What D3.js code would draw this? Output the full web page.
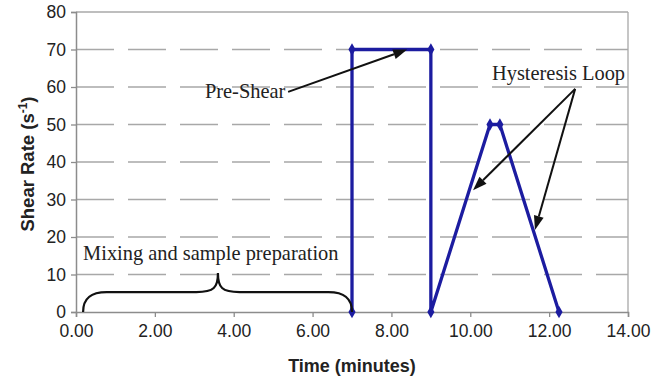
<!DOCTYPE html>
<html>
<head>
<meta charset="utf-8">
<script src="https://cdn.jsdelivr.net/npm/d3@7"></script>
<style>
  html, body { margin: 0; padding: 0; background: #fff; }
  svg { display: block; }
</style>
</head>
<body>
<svg id="chart"></svg>
<script>
// shear-rate program
const timeMin = [7, 7, 9, 9, 10.5, 10.75, 12.25];
const shearRate = [0, 70, 70, 0, 50, 50, 0];

const xTicks = [0, 2, 4, 6, 8, 10, 12, 14];
const yTicks = [0, 10, 20, 30, 40, 50, 60, 70, 80];

// annotation anchors in data units [minutes, s^-1]
const preShearText = [3.27, 57.2];
const preShearArrow = [[5.38, 58.7], [8.4, 70]];
const loopText = [10.55, 62];
const loopArrows = [
  [[12.66, 59.5], [10.07, 32.5]],
  [[12.66, 59.5], [11.64, 21.9]]
];
const mixText = [0.18, 13.8];
const brace = { from: 0.18, to: 7.0, mid: 3.6, flat: 5.3, tip: 10.4 };

const W = 652, H = 377;
const margin = { top: 12, right: 24, bottom: 65, left: 76 };
const iW = W - margin.left - margin.right;
const iH = H - margin.top - margin.bottom;

const GRID = '#a8a8a8';
const AXIS = '#8c8c8c';
const TICK_TXT = '#222';
const LINE = '#1c1ca0';

const svg = d3.select('#chart').attr('width', W).attr('height', H);
const g = svg.append('g').attr('transform', `translate(${margin.left},${margin.top})`);

const x = d3.scaleLinear().domain([0, 14]).range([0, iW]);
const y = d3.scaleLinear().domain([0, 80]).range([iH, 0]);

// gridlines
g.append('g')
  .selectAll('line')
  .data(yTicks.filter((d) => d > 0))
  .join('line')
  .attr('x1', 0)
  .attr('x2', iW)
  .attr('y1', (d) => y(d))
  .attr('y2', (d) => y(d))
  .attr('stroke', GRID)
  .attr('stroke-width', 1.3)
  .attr('stroke-dasharray', (d) => (d === 80 ? null : '38,14'));

// right border of plot area
g.append('line')
  .attr('x1', iW).attr('x2', iW)
  .attr('y1', 0).attr('y2', iH)
  .attr('stroke', GRID)
  .attr('stroke-width', 1.3);

// y axis
g.append('g')
  .call(d3.axisLeft(y).tickValues(yTicks).tickSize(5).tickPadding(5))
  .call((a) => a.select('.domain').attr('stroke', AXIS).attr('stroke-width', 1.5))
  .call((a) => a.selectAll('line').attr('stroke', AXIS).attr('stroke-width', 1.3))
  .call((a) => a.selectAll('text')
    .attr('fill', TICK_TXT)
    .attr('font-family', 'Liberation Sans, Arial, sans-serif')
    .attr('font-size', 17.5));

// x axis
g.append('g')
  .attr('transform', `translate(0,${iH})`)
  .call(d3.axisBottom(x).tickValues(xTicks).tickSize(5).tickPadding(8).tickFormat((d) => d.toFixed(2)))
  .call((a) => a.select('.domain').attr('stroke', AXIS).attr('stroke-width', 1.5))
  .call((a) => a.selectAll('line').attr('stroke', AXIS).attr('stroke-width', 1.3))
  .call((a) => a.selectAll('text')
    .attr('fill', TICK_TXT)
    .attr('font-family', 'Liberation Sans, Arial, sans-serif')
    .attr('font-size', 17.5));

// axis titles
svg.append('text')
  .attr('x', margin.left + x(7))
  .attr('y', 372)
  .attr('text-anchor', 'middle')
  .attr('font-family', 'Liberation Sans, Arial, sans-serif')
  .attr('font-weight', 'bold')
  .attr('font-size', 18)
  .attr('fill', '#222')
  .text('Time (minutes)');

const yTitle = svg.append('text')
  .attr('transform', `translate(34,${margin.top + iH / 2 + 2}) rotate(-90)`)
  .attr('text-anchor', 'middle')
  .attr('font-family', 'Liberation Sans, Arial, sans-serif')
  .attr('font-weight', 'bold')
  .attr('font-size', 18.5)
  .attr('fill', '#222');
yTitle.append('tspan').text('Shear Rate (s');
yTitle.append('tspan').attr('font-size', 12).attr('dy', -7).text('-1');
yTitle.append('tspan').attr('dy', 7).text(')');

// data series
const pts = timeMin.map((t, i) => [t, shearRate[i]]);
g.append('path')
  .datum(pts)
  .attr('fill', 'none')
  .attr('stroke', LINE)
  .attr('stroke-width', 3.3)
  .attr('stroke-linejoin', 'round')
  .attr('d', d3.line().x((d) => x(d[0])).y((d) => y(d[1])));

g.selectAll('path.marker')
  .data(pts)
  .join('path')
  .attr('class', 'marker')
  .attr('transform', (d) => `translate(${x(d[0])},${y(d[1])})`)
  .attr('d', d3.symbol(d3.symbolDiamond, 44))
  .attr('fill', LINE);

// annotations
const serif = 'Liberation Serif, Times New Roman, serif';
const ann = g.append('g');

ann.append('text')
  .attr('x', x(mixText[0]))
  .attr('y', y(mixText[1]))
  .attr('font-family', serif)
  .attr('font-size', 20.4)
  .attr('fill', '#222')
  .text('Mixing and sample preparation');

ann.append('text')
  .attr('x', x(preShearText[0]))
  .attr('y', y(preShearText[1]))
  .attr('font-family', serif)
  .attr('font-size', 20.4)
  .attr('fill', '#222')
  .text('Pre-Shear');

ann.append('text')
  .attr('x', x(loopText[0]))
  .attr('y', y(loopText[1]))
  .attr('font-family', serif)
  .attr('font-size', 20.4)
  .attr('fill', '#222')
  .text('Hysteresis Loop');

// curly brace
const b = brace;
const bp = d3.path();
bp.moveTo(x(b.from), y(0));
bp.bezierCurveTo(x(b.from), y(b.flat * 0.7), x(b.from + 0.2), y(b.flat), x(b.from + 0.6), y(b.flat));
bp.lineTo(x(b.mid - 0.55), y(b.flat));
bp.bezierCurveTo(x(b.mid - 0.1), y(b.flat), x(b.mid), y(b.flat + 1.2), x(b.mid), y(b.tip));
bp.bezierCurveTo(x(b.mid), y(b.flat + 1.2), x(b.mid + 0.1), y(b.flat), x(b.mid + 0.55), y(b.flat));
bp.lineTo(x(b.to - 0.6), y(b.flat));
bp.bezierCurveTo(x(b.to - 0.2), y(b.flat), x(b.to), y(b.flat * 0.7), x(b.to), y(0));
ann.append('path')
  .attr('d', bp.toString())
  .attr('fill', 'none')
  .attr('stroke', '#111')
  .attr('stroke-width', 2.2);

// arrows
function arrow(from, to) {
  const x1 = x(from[0]), y1 = y(from[1]);
  const x2 = x(to[0]), y2 = y(to[1]);
  const ang = Math.atan2(y2 - y1, x2 - x1);
  const len = 14, half = 5;
  const bx = x2 - len * Math.cos(ang), by = y2 - len * Math.sin(ang);
  ann.append('line')
    .attr('x1', x1).attr('y1', y1)
    .attr('x2', bx).attr('y2', by)
    .attr('stroke', '#111')
    .attr('stroke-width', 2);
  const px = -Math.sin(ang) * half, py = Math.cos(ang) * half;
  ann.append('path')
    .attr('d', `M${x2},${y2}L${bx + px},${by + py}L${bx - px},${by - py}Z`)
    .attr('fill', '#111');
}
arrow(preShearArrow[0], preShearArrow[1]);
loopArrows.forEach((a) => arrow(a[0], a[1]));
</script>
</body>
</html>
